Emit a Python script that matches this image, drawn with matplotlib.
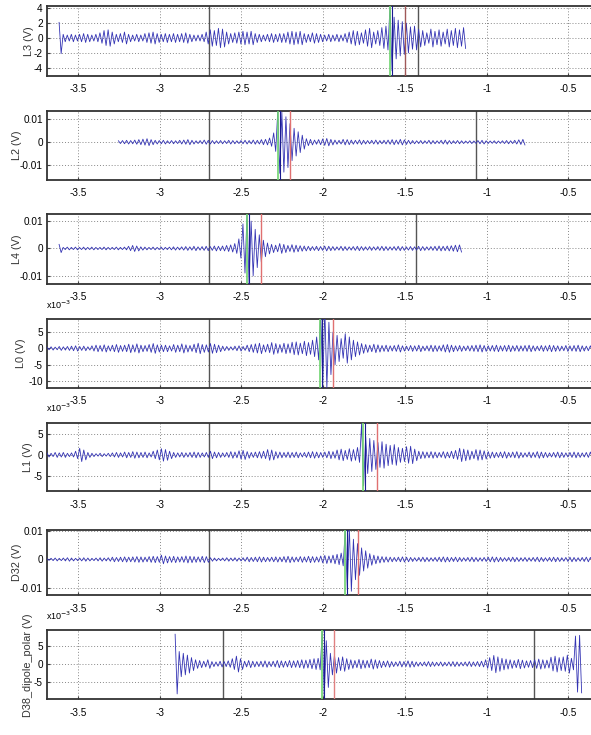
"""Stacked waveform panels with arrival picks."""

import matplotlib

matplotlib.use("Agg")
import matplotlib.pyplot as plt
import numpy as np

plt.rcParams["font.family"] = ["Liberation Sans Narrow", "Liberation Sans", "DejaVu Sans"]
plt.rcParams["axes.unicode_minus"] = False

# envelope step of the traces (s); each entry is drawn as one +/- cycle
STEP = 0.025

# ---- trace data (peak amplitude per step) ----
L3_start = -3.616
L3_peaks = [2.1, 0.5, 0.4, 0.5, 0.4, 0.5, 0.6, 0.5, 0.4, 0.5, 0.7, 1.0, 1.1, 0.8,
            0.5, 0.6, 0.8, 0.5, 0.4, 0.5, 0.4, 0.6, 0.7, 0.8, 0.6, 0.5, 0.6, 0.5, 0.6, 0.5,
            0.6, 0.7, 0.5, 0.4, 0.4, 0.5, 0.8, 1.1, 1.0, 1.3, 1.2, 0.8, 0.6, 0.7, 0.8, 0.9,
            0.8, 0.9, 0.6, 0.5, 0.4, 0.5, 0.6, 0.5, 0.6, 0.6, 0.8, 0.9, 0.8, 0.9, 0.6, 0.5,
            0.7, 0.6, 0.5, 0.4, 0.5, 0.4, 0.5, 0.4, 0.6, 0.8, 1.0, 0.9, 0.7, 1.1, 1.3, 0.8,
            1.0, 1.4, 1.6, 4.4, 2.8, 2.4, 2.2, 2.0, 1.5, 1.6, 1.2, 1.0, 0.7, 1.2, 0.9, 1.1,
            0.8, 1.2, 1.0, 1.3, 1.1, 1.4]

L2_start = -3.253
L2_peaks = [0.0006, 0.0007, 0.0008, 0.0007, 0.0009, 0.0011, 0.0013, 0.0015, 0.0011, 0.0008,
            0.0007, 0.0008, 0.0006, 0.0007, 0.0006, 0.0008, 0.0009, 0.0011, 0.0008, 0.0006,
            0.0007, 0.0009, 0.0008, 0.0007, 0.0006, 0.0007, 0.0006, 0.0008, 0.0007, 0.0006,
            0.0007, 0.0008, 0.0007, 0.0009, 0.0008, 0.0011, 0.0012, 0.0018, 0.004, 0.0135,
            0.013, 0.011, 0.008, 0.006, 0.0045, 0.003, 0.0015, 0.0012, 0.0009, 0.0011,
            0.0014, 0.0016, 0.0012, 0.0009, 0.0008, 0.0012, 0.0011, 0.0009, 0.0008, 0.0010,
            0.0008, 0.0007, 0.0008, 0.0009, 0.0007, 0.0008, 0.0009, 0.0011, 0.0009, 0.0012,
            0.0010, 0.0008, 0.0007, 0.0006, 0.0007, 0.0006, 0.0008, 0.0007, 0.0006, 0.0008,
            0.0009, 0.0007, 0.0006, 0.0007, 0.0006, 0.0005, 0.0006, 0.0005, 0.0007, 0.0008,
            0.0006, 0.0005, 0.0006, 0.0005, 0.0006, 0.0007, 0.0006, 0.0008, 0.0010, 0.0012]

L4_start = -3.616
L4_peaks = [0.0015, 0.0004, 0.0005, 0.0004, 0.0005, 0.0004, 0.0005, 0.0004, 0.0005, 0.0004,
            0.0004, 0.0005, 0.0004, 0.0004, 0.0005, 0.0004, 0.0005, 0.0008, 0.0011, 0.0009,
            0.0006, 0.0005, 0.0004, 0.0005, 0.0004, 0.0005, 0.0004, 0.0005, 0.0006, 0.0005,
            0.0006, 0.0007, 0.0006, 0.0008, 0.0006, 0.0007, 0.0008, 0.0007, 0.0009, 0.0008,
            0.0009, 0.0011, 0.0013, 0.0018, 0.0035, 0.009, 0.013, 0.010, 0.007,
            0.005, 0.003, 0.002, 0.0015, 0.0012, 0.0018, 0.0015, 0.0011, 0.0014, 0.0012,
            0.0010, 0.0009, 0.0008, 0.0007, 0.0008, 0.0007, 0.0009, 0.0008, 0.0007, 0.0006,
            0.0008, 0.0007, 0.0006, 0.0007, 0.0008, 0.0007, 0.0006, 0.0007, 0.0006, 0.0007,
            0.0008, 0.0007, 0.0006, 0.0007, 0.0008, 0.0007, 0.0006, 0.0007, 0.0006, 0.0008,
            0.0007, 0.0006, 0.0007, 0.0008, 0.0009, 0.0008, 0.0009, 0.0010, 0.0012, 0.0013]

# L0, L1 and D38 are in units of 1e-3 V
L0_start = -3.69
L0_peaks = [0.4, 0.5, 0.4, 0.6, 0.5, 0.6, 0.7, 0.8, 0.6, 0.7, 0.5,
            0.8, 1.0, 0.9, 1.1, 0.8, 1.0, 1.2, 0.9, 1.0, 1.3, 1.1, 1.4, 1.0, 0.9, 1.2, 1.5, 1.1, 1.0,
            1.0, 0.8, 1.2, 1.0, 1.4, 1.1, 0.9, 1.3, 1.6, 1.2, 1.1, 1.5,
            1.3, 1.0, 0.7, 0.6, 0.5, 0.7, 0.8, 0.6, 1.0, 1.2,
            1.4, 1.6, 1.1, 1.3, 1.8, 1.5, 1.2, 1.6, 1.4, 1.9, 2.0, 1.6,
            2.2, 1.8, 2.5, 3.5,
            11.0, 12.0, 8.0, 5.0, 4.0, 3.0, 4.5, 3.5, 2.5,
            2.0, 1.5, 1.2, 1.0, 1.3, 1.1, 0.9, 1.0, 0.8, 0.9, 1.1, 0.8, 0.7, 0.9, 0.8, 1.0,
            0.7, 0.8, 1.0, 0.9, 0.8, 1.1, 1.2, 1.0, 0.8, 0.9, 0.7, 0.8, 0.9, 1.0, 1.1, 0.9,
            0.8, 0.9, 1.0, 0.8, 0.9, 1.0, 0.8, 0.9,
            0.8, 0.9, 1.0, 0.8, 0.7, 0.9, 0.8, 1.0, 0.9, 0.8, 0.7, 0.9, 0.8, 0.9, 1.0, 0.8,
            0.7, 0.8, 0.9, 0.8]

L1_start = -3.69
L1_peaks = [0.5, 0.4, 0.6, 0.5, 0.6, 0.4, 0.5, 0.9, 1.6, 1.2, 0.6, 0.4, 0.3, 0.4, 0.3, 0.4,
            0.5, 0.6, 0.5, 0.7, 0.6, 0.8, 0.7, 0.6, 0.7, 0.5, 0.9, 1.2, 1.5, 1.3, 0.9, 0.6,
            0.5, 0.6, 0.5, 0.6, 0.7, 0.6, 0.5, 0.6, 0.9, 0.7, 0.6, 0.5, 0.6, 0.8, 0.7, 1.0,
            1.1, 0.8, 0.6, 0.7, 0.8, 0.9, 1.3, 1.2, 0.8, 0.7, 0.6, 0.7, 0.6, 0.7, 0.5, 0.6,
            0.7, 0.8, 0.7, 0.6, 0.7, 0.9, 0.8, 1.2, 1.4, 1.1, 1.5, 1.3, 1.8, 7.5, 4.5, 4.0,
            3.5, 3.0, 3.2, 2.6, 2.3, 2.5, 1.8, 1.6, 2.0, 2.1, 1.4, 0.9, 0.8, 0.7, 0.8, 0.7,
            0.6, 0.8, 0.7, 0.9, 1.1, 1.6, 1.4, 1.2, 0.9, 1.3, 1.2, 1.0, 0.8, 0.7, 0.6, 0.7,
            0.8, 0.6, 0.7, 0.8, 0.6, 0.5, 0.7, 0.6, 0.8, 0.7, 0.6, 0.5, 0.6, 0.7, 0.6, 0.5,
            0.6, 0.7, 0.6, 0.5, 0.6, 0.7, 0.6, 0.5, 0.6, 0.5]

D32_start = -3.69
D32_peaks = [0.0003, 0.0004, 0.0005, 0.0004, 0.0005, 0.0006, 0.0005, 0.0004, 0.0005, 0.0006,
             0.0005, 0.0004, 0.0005, 0.0006, 0.0005, 0.0006, 0.0008, 0.0007, 0.0008, 0.0009,
             0.0008, 0.0009, 0.0010, 0.0009, 0.0008, 0.0010, 0.0011, 0.0010, 0.0015, 0.0012,
             0.0010, 0.0011, 0.0009, 0.0010, 0.0012, 0.0011, 0.0010, 0.0009, 0.0011, 0.0010,
             0.0006, 0.0005, 0.0004, 0.0005, 0.0006, 0.0005, 0.0006, 0.0005, 0.0006, 0.0008,
             0.0007, 0.0008, 0.0009, 0.0008, 0.0007, 0.0008, 0.0009, 0.0008, 0.0010, 0.0011,
             0.0009, 0.0008, 0.0010, 0.0009, 0.0011, 0.0010, 0.0009,
             0.0012, 0.0014, 0.0012, 0.0015, 0.0018, 0.0022, 0.0105, 0.011, 0.007, 0.0055,
             0.004, 0.003, 0.002, 0.0015, 0.0012, 0.0010, 0.0009, 0.0008, 0.0007, 0.0008,
             0.0009, 0.0008, 0.0007, 0.0006, 0.0007, 0.0008, 0.0007, 0.0006, 0.0007, 0.0008,
             0.0009, 0.0008, 0.0007, 0.0008, 0.0007, 0.0006, 0.0007, 0.0008, 0.0007, 0.0006,
             0.0007, 0.0008, 0.0009, 0.0008, 0.0007, 0.0006, 0.0007, 0.0008, 0.0007, 0.0006,
             0.0007, 0.0006, 0.0007, 0.0008, 0.0007, 0.0006, 0.0007, 0.0008, 0.0007, 0.0006,
             0.0007, 0.0008, 0.0007, 0.0006, 0.0007, 0.0008, 0.0007, 0.0006, 0.0007, 0.0006]

D38_start = -2.906
D38_peaks = [8.3, 3.5, 3.0, 2.5, 1.8, 1.2, 1.0, 0.8, 1.2, 0.7, 0.6, 0.8, 0.7, 0.9, 1.5, 2.2,
             1.5, 0.8, 1.0, 0.8, 0.7, 0.8, 0.9, 0.7, 0.8, 1.0, 0.9, 0.8, 1.0, 0.9, 1.0,
             1.2, 1.1, 1.3, 1.5, 1.6, 9.0, 6.5, 3.0, 2.5, 1.8, 2.0, 1.5, 1.2, 1.0, 1.3, 1.1,
             1.0, 1.4, 1.2, 1.0, 0.8, 0.9, 0.7, 0.6, 0.8, 0.7, 0.9, 0.8, 0.6, 0.5, 0.6, 0.7,
             0.6, 0.5, 0.6, 0.5, 0.6, 0.7, 0.6, 0.5, 0.6, 0.7, 0.6, 0.7, 0.8, 1.2, 1.8, 2.4,
             2.0, 1.6, 1.4, 1.2, 1.0, 1.3, 1.1, 0.9, 1.0, 1.2, 1.4, 1.2, 1.1, 1.9, 2.2, 1.8,
             2.0, 2.5, 1.6, 7.8, 8.0]

# ---- panel settings ----
names = ["L3 (V)", "L2 (V)", "L4 (V)", "L0 (V)", "L1 (V)", "D32 (V)", "D38_dipole_polar (V)"]
starts = [L3_start, L2_start, L4_start, L0_start, L1_start, D32_start, D38_start]
peaks = [L3_peaks, L2_peaks, L4_peaks, L0_peaks, L1_peaks, D32_peaks, D38_peaks]
ylims = [(-5.1, 4.3), (-0.0164, 0.0135), (-0.0130, 0.0125), (-12.1, 9.0),
         (-8.8, 7.8), (-0.0124, 0.0103), (-9.8, 9.4)]
yticks = [[-4, -2, 0, 2, 4], [-0.01, 0, 0.01], [-0.01, 0, 0.01], [-10, -5, 0, 5],
          [-5, 0, 5], [-0.01, 0, 0.01], [-5, 0, 5]]
exp_label = [False, False, False, True, True, False, True]
label_right_px = [34, 22, 22, 26, 33, 22, 33]

# vertical markers (s)
gray_lines = [[-2.70, -1.421], [-2.696, -1.064], [-2.70, -1.43], [-2.70], [-2.70], [-2.70],
              [-2.614, -0.713]]
green_picks = [-1.59, -2.276, -2.464, -2.019, -1.758, -1.866, -2.005]
red_picks = [-1.50, -2.203, -2.38, -1.941, -1.672, -1.79, -1.933]
red_colours = ["#a05858", "#e07070", "#e07070", "#e07070", "#e07070", "#e07070", "#e08080"]

xticks = [-3.5, -3, -2.5, -2, -1.5, -1, -0.5]
xlim = (-3.69, -0.30)

# panel boxes in pixels (top, bottom) on a 591x735 canvas
panel_px = [(6, 76), (111, 180), (214.3, 284), (319, 388), (422.7, 491.3), (529.7, 595.3),
            (630.3, 699.3)]

W, H = 591, 735
fig = plt.figure(figsize=(W / 100, H / 100), dpi=100)

x_left = 47 / W
x_width = (W + 10 - 47) / W
ax_w_px = W + 10 - 47

for i in range(7):
    top, bot = panel_px[i]
    ax = fig.add_axes([x_left, 1 - bot / H, x_width, (bot - top) / H])
    amp = np.repeat(np.asarray(peaks[i]), 2)
    sign = np.tile([1, -1], len(peaks[i]))
    xs = starts[i] + np.arange(len(amp)) * STEP / 2
    ax.plot(xs, amp * sign, color="#3434b4", lw=0.6, zorder=3)

    for gx in gray_lines[i]:
        ax.axvline(gx, color="#555555", lw=1.0, zorder=2)
    ax.axvline(green_picks[i], color="#6fd46f", lw=1.2, zorder=4)
    ax.axvline(green_picks[i] + 0.012, color="#1a1a90", lw=0.8, zorder=4)
    ax.axvline(red_picks[i], color=red_colours[i], lw=1.0, zorder=4)

    ax.set_xlim(*xlim)
    ax.set_ylim(*ylims[i])
    ax.set_xticks(xticks)
    ax.set_xticklabels([f"{t:g}" for t in xticks])
    ax.set_yticks(yticks[i])
    ax.set_yticklabels([f"{t:g}" for t in yticks[i]])
    ax.grid(True, color="#888888", linestyle=(0, (1, 2)), lw=0.7)
    ax.tick_params(direction="in", length=2, labelsize=7.2, color="#444444")
    ax.tick_params(axis="x", pad=6)
    ax.tick_params(axis="y", pad=3)
    ax.set_ylabel(names[i], fontsize=7.8, color="#333333")
    ax.yaxis.set_label_coords((label_right_px[i] - 47) / ax_w_px, 0.5)
    for sp in ax.spines.values():
        sp.set_color("#333333")
        sp.set_linewidth(1.3)
    if exp_label[i]:
        ax.annotate(r"x10$^{-3}$", xy=(0, 1), xycoords="axes fraction",
                    xytext=(-1, 6), textcoords="offset points", fontsize=6.5,
                    ha="left", va="bottom")

fig.savefig("out.png", dpi=100)
